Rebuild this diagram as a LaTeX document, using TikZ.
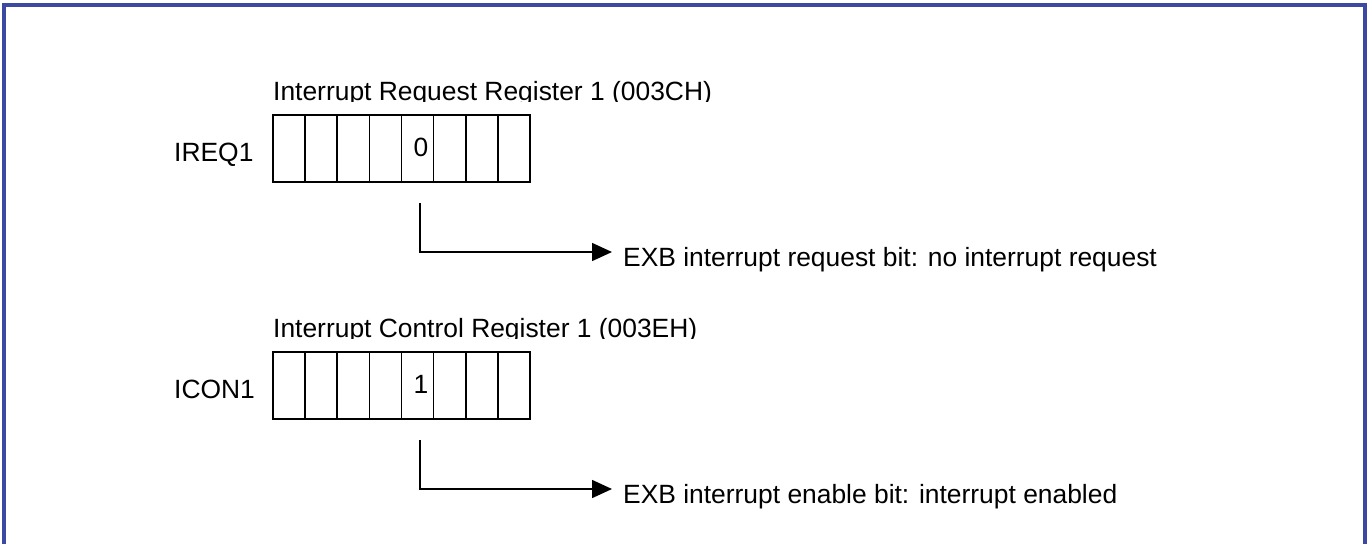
\documentclass[tikz,border=0pt]{standalone}
\usepackage{fontspec}
\setmainfont{Liberation Sans}
\usetikzlibrary{arrows.meta,calc}
\definecolor{framecol}{RGB}{59,73,162}
\tikzset{
  txt/.style={inner sep=0pt, font=\fontsize{26.4}{30}\selectfont},
  cell/.style={draw, line width=1.6pt, minimum width=32.125pt, minimum height=67pt, inner sep=0pt},
  conn/.style={line width=1.5pt, -{Triangle[length=20pt,width=18pt]}},
}
\begin{document}
\begin{tikzpicture}[x=1pt,y=-1pt]
  \useasboundingbox (0,0) rectangle (1372,544);
  % outer frame, open at the bottom
  \draw[framecol, line width=3.5pt] (4,544) -- (4,5) -- (1365,5) -- (1365,544);

  % register titles (cut just below the baseline)
  \begin{scope}
    \clip (0,0) rectangle (1372,101.5);
    \node[txt, anchor=base west] (title1) at (273,100) {Interrupt Request Register 1 (003CH)};
  \end{scope}
  \begin{scope}
    \clip (0,300) rectangle (1372,338.5);
    \node[txt, anchor=base west] (title2) at (273,337) {Interrupt Control Register 1 (003EH)};
  \end{scope}

  % register names
  \node[txt, anchor=base west] (name1) at (174,161) {IREQ1};
  \node[txt, anchor=base west] (name2) at (174,398) {ICON1};

  % eight-bit registers
  \foreach \i in {1,...,8} {
    \node[cell] (a\i) at ({273+32.125*(\i-0.5)},148.5) {};
    \node[cell] (b\i) at ({273+32.125*(\i-0.5)},385.5) {};
  }
  \node[txt, anchor=base] (bitA) at (421,156) {0};
  \node[txt, anchor=base] (bitB) at (421,393) {1};

  % bit descriptions
  \node[txt, anchor=base west] (desc1) at (623,266) {EXB interrupt request bit: no interrupt request};
  \node[txt, anchor=base west] (desc2) at (623,503) {EXB interrupt enable bit: interrupt enabled};

  \coordinate (s1) at (420,203);
  \coordinate (s2) at (420,440);
  \draw[conn] (s1) |- ($(desc1.base west)+(-11,-14)$);
  \draw[conn] (s2) |- ($(desc2.base west)+(-11,-14)$);
\end{tikzpicture}
\end{document}
